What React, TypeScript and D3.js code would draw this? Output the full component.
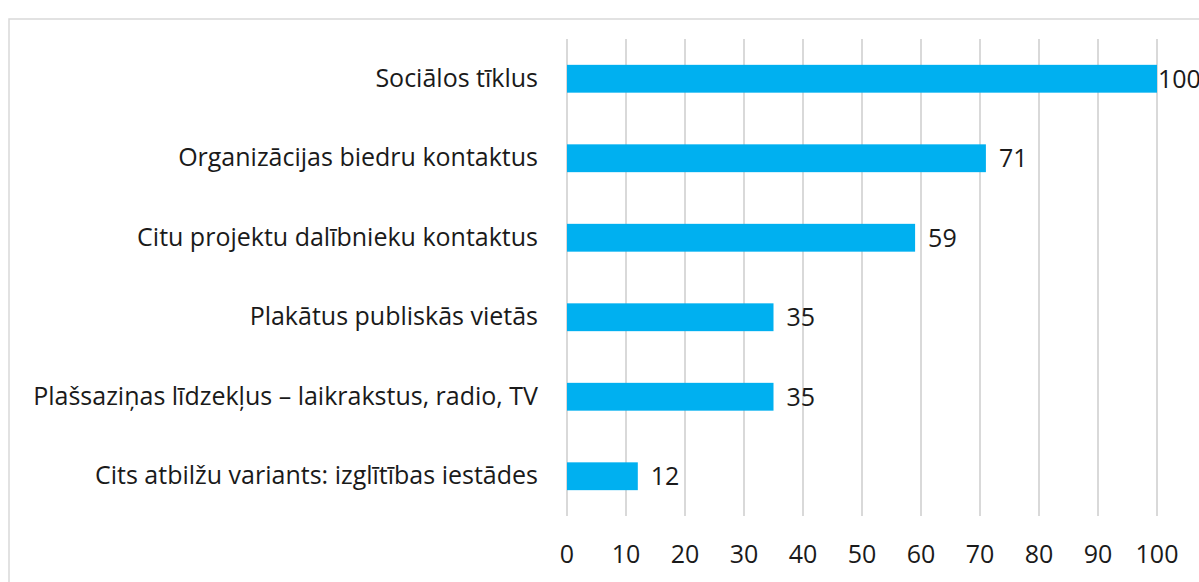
import React from "react";
import * as d3 from "d3";

const categories = [
  "Sociālos tīklus",
  "Organizācijas biedru kontaktus",
  "Citu projektu dalībnieku kontaktus",
  "Plakātus publiskās vietās",
  "Plašsaziņas līdzekļus – laikrakstus, radio, TV",
  "Cits atbilžu variants: izglītības iestādes",
];
const values = [100, 71, 59, 35, 35, 12];
const ticks = [0, 10, 20, 30, 40, 50, 60, 70, 80, 90, 100];

const W = 1199;
const H = 582;
const FONT = "'Open Sans', 'Liberation Sans', sans-serif";

export default function App() {
  const x = d3.scaleLinear().domain([0, 100]).range([567, 1157]);
  const y = d3.scaleBand().domain(categories).range([39, 516]).paddingInner(0.65).paddingOuter(0.325);
  const plotTop = 39;
  const plotBottom = 516;
  return (
    <svg width={W} height={H} style={{ position: "absolute", left: 0, top: 0, background: "#fff" }}>
      <rect x={9} y={19} width={W} height={H} fill="#fff" stroke="#D9D9D9" strokeWidth={1.5} />
      {ticks.map((t) => (
        <line key={t} x1={x(t)} x2={x(t)} y1={plotTop} y2={plotBottom} stroke="#D9D9D9" strokeWidth={2} />
      ))}
      {categories.map((c, i) => {
        const yy = y(c)!;
        const bw = y.bandwidth();
        const end = x(values[i]);
        const lx = Math.min(end + 13, x(100) + 1);
        return (
          <g key={c}>
            <rect x={x(0)} y={yy} width={end - x(0)} height={bw} fill="#00B0F0" />
            <text x={538} y={yy + bw / 2 + 8} textAnchor="end" fontFamily={FONT} fontSize={25} fill="#1a1a1a">
              {c}
            </text>
            <text x={lx} y={yy + bw / 2 + 9} textAnchor="start" fontFamily={FONT} fontSize={25} fill="#1a1a1a">
              {values[i]}
            </text>
          </g>
        );
      })}
      {ticks.map((t) => (
        <text key={t} x={x(t)} y={563} textAnchor="middle" fontFamily={FONT} fontSize={25} fill="#1a1a1a">
          {t}
        </text>
      ))}
    </svg>
  );
}
